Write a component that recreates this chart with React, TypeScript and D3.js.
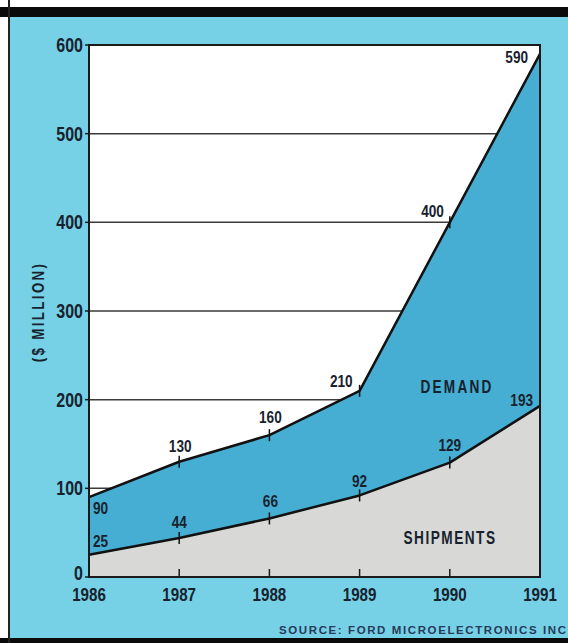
import React from "react";
import * as d3 from "d3";

// values ($ million)
const years = [1986, 1987, 1988, 1989, 1990, 1991];
const demand = [90, 130, 160, 210, 400, 590];
const shipments = [25, 44, 66, 92, 129, 193];
const yTicks = [0, 100, 200, 300, 400, 500, 600];

// label placement next to each point: [dx, dy, anchor]
const demandLabelPos: [number, number, string][] = [
  [4, 17, "start"],
  [1, -10, "middle"],
  [1, -12, "middle"],
  [-7, -4, "end"],
  [-6, -5, "end"],
  [-12, 9, "end"],
];
const shipLabelPos: [number, number, string][] = [
  [4, -8, "start"],
  [0, -10, "middle"],
  [1, -11, "middle"],
  [0, -8, "middle"],
  [0, -12, "middle"],
  [-7, 0, "end"],
];

const W = 568;
const H = 643;
const plot = { left: 89, right: 540, top: 45, bottom: 577 };

const FONT = "'Liberation Sans', Arial, sans-serif";
const INK = "#17222e";

// condensed bold text: the glyphs are squeezed horizontally
function CText({
  x,
  y,
  size,
  sx = 0.8,
  anchor = "start",
  ls = 0,
  rotate = 0,
  children,
}: {
  x: number;
  y: number;
  size: number;
  sx?: number;
  anchor?: string;
  ls?: number;
  rotate?: number;
  children: React.ReactNode;
}) {
  return (
    <text
      transform={`translate(${x},${y}) rotate(${rotate}) scale(${sx},1)`}
      fontSize={size}
      textAnchor={anchor}
      letterSpacing={ls / sx}
    >
      {children}
    </text>
  );
}

export default function App() {
  const x = d3.scaleLinear().domain([1986, 1991]).range([plot.left, plot.right]);
  const y = d3.scaleLinear().domain([0, 600]).range([plot.bottom, plot.top]);

  const demandPts = years.map((yr, i) => ({ yr, v: demand[i] }));
  const shipPts = years.map((yr, i) => ({ yr, v: shipments[i] }));

  const line = d3
    .line<{ yr: number; v: number }>()
    .x((d) => x(d.yr))
    .y((d) => y(d.v));
  const area = d3
    .area<{ yr: number; v: number }>()
    .x((d) => x(d.yr))
    .y0(y(0))
    .y1((d) => y(d.v));

  return (
    <div style={{ position: "absolute", left: 0, top: 0 }}>
      <svg width={W} height={H} style={{ display: "block" }}>
        <rect width={W} height={H} fill="#ffffff" />
        {/* panel background */}
        <rect x={9} y={17} width={W - 9} height={621} fill="#76d1e6" />
        <rect x={0} y={7} width={W} height={10} fill="#0a0a0a" />
        <rect x={0} y={638} width={W} height={H - 638} fill="#0a0a0a" />
        <line x1={9} x2={9} y1={0} y2={H} stroke="#222" strokeWidth={2} />

        {/* plot area */}
        <rect
          x={plot.left}
          y={plot.top}
          width={plot.right - plot.left}
          height={plot.bottom - plot.top}
          fill="#ffffff"
        />
        {yTicks.slice(1, -1).map((t) => (
          <line
            key={t}
            x1={plot.left}
            x2={plot.right}
            y1={y(t)}
            y2={y(t)}
            stroke="#3a3a3a"
            strokeWidth={1.5}
          />
        ))}

        <path d={area(demandPts) || ""} fill="#46aed2" />
        <path d={area(shipPts) || ""} fill="#d8d8d6" />
        <path d={line(demandPts) || ""} fill="none" stroke="#111" strokeWidth={2.5} strokeLinejoin="round" />
        <path d={line(shipPts) || ""} fill="none" stroke="#111" strokeWidth={2.5} strokeLinejoin="round" />

        {/* point ticks */}
        {demandPts.concat(shipPts).map((d, i) => (
          <line
            key={"pt" + i}
            x1={x(d.yr)}
            x2={x(d.yr)}
            y1={y(d.v) - 6}
            y2={y(d.v) + 6}
            stroke="#111"
            strokeWidth={1.5}
          />
        ))}

        {/* frame */}
        <rect
          x={plot.left}
          y={plot.top}
          width={plot.right - plot.left}
          height={plot.bottom - plot.top}
          fill="none"
          stroke="#1a1a1a"
          strokeWidth={2}
        />

        {/* x ticks */}
        {years.map((yr) => (
          <line
            key={"xt" + yr}
            x1={x(yr)}
            x2={x(yr)}
            y1={plot.bottom}
            y2={plot.bottom - 8}
            stroke="#1a1a1a"
            strokeWidth={1.5}
          />
        ))}
        {yTicks.map((t) => (
          <line
            key={"yt" + t}
            x1={plot.left - 4}
            x2={plot.left}
            y1={y(t)}
            y2={y(t)}
            stroke="#1a1a1a"
            strokeWidth={1.5}
          />
        ))}

        <g fontFamily={FONT} fontWeight="bold" fill={INK}>
          {yTicks.map((t) => (
            <CText key={"yl" + t} x={plot.left - 6} y={y(t) + (t === 0 ? 3 : 7)} size={19.5} sx={0.82} anchor="end">
              {t}
            </CText>
          ))}
          {years.map((yr) => (
            <CText key={"xl" + yr} x={x(yr)} y={601} size={18.5} sx={0.82} anchor="middle">
              {yr}
            </CText>
          ))}

          <CText x={44} y={312} size={17} sx={0.78} ls={2.4} rotate={-90} anchor="middle">
            ($ MILLION)
          </CText>

          {demandPts.map((d, i) => (
            <CText
              key={"dl" + i}
              x={x(d.yr) + demandLabelPos[i][0]}
              y={y(d.v) + demandLabelPos[i][1]}
              size={17}
              sx={0.8}
              anchor={demandLabelPos[i][2]}
            >
              {d.v}
            </CText>
          ))}
          {shipPts.map((d, i) => (
            <CText
              key={"sl" + i}
              x={x(d.yr) + shipLabelPos[i][0]}
              y={y(d.v) + shipLabelPos[i][1]}
              size={17}
              sx={0.8}
              anchor={shipLabelPos[i][2]}
            >
              {d.v}
            </CText>
          ))}

          <CText x={457} y={393} size={17.5} sx={0.78} ls={2.2} anchor="middle">
            DEMAND
          </CText>
          <CText x={450} y={544} size={17.5} sx={0.78} ls={1.5} anchor="middle">
            SHIPMENTS
          </CText>
        </g>

        <text
          x={279}
          y={634}
          fontFamily={FONT}
          fontWeight="bold"
          fontSize={11.5}
          letterSpacing={1.6}
          fill="#263a5a"
        >
          SOURCE: FORD MICROELECTRONICS INC
        </text>
      </svg>
    </div>
  );
}
